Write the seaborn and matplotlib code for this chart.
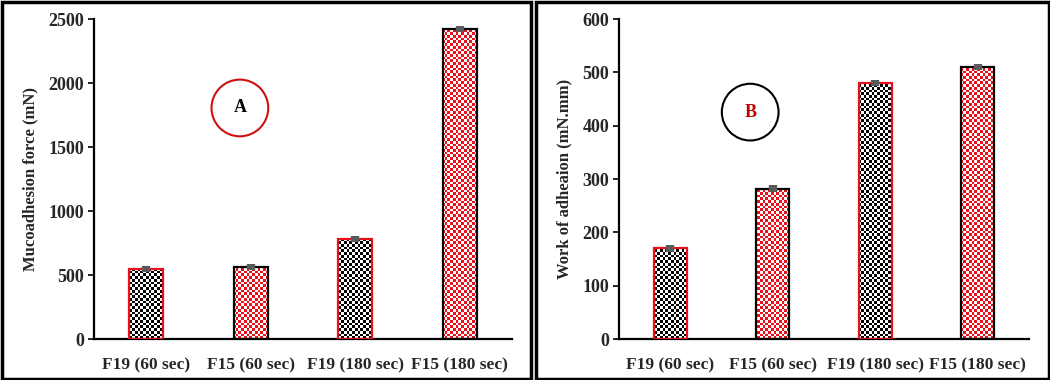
import numpy as np
import pandas as pd
import matplotlib
matplotlib.use("Agg")
import matplotlib.pyplot as plt
import seaborn as sns
from matplotlib.patches import Rectangle

categories = ["F19 (60 sec)", "F15 (60 sec)", "F19 (180 sec)", "F15 (180 sec)"]
force_values = [550, 565, 780, 2420]
force_err = [24, 24, 24, 24]
work_values = [170, 282, 480, 510]
work_err = [6, 6, 6, 6]
formulation = ["F19", "F15", "F19", "F15"]

sns.set_theme(style="white")
plt.rcParams["font.family"] = ["Liberation Serif", "DejaVu Serif"]
plt.rcParams["font.weight"] = "bold"

fig = plt.figure(figsize=(10.5, 3.8), dpi=100)
W, H = 1050, 380

def fx(px):
    return px / W

def fy(py):
    return 1 - py / H

ax1 = fig.add_axes([fx(94), fy(339), fx(512 - 94), (339 - 19) / H])
ax2 = fig.add_axes([fx(619), fy(339), fx(1029 - 619), (339 - 19) / H])

fill_colors = {"F19": "black", "F15": "#e8101a"}
edge_colors = {"F19": "#e8101a", "F15": "black"}


def checker_rgb(color, ny, nx):
    rgb = np.array(matplotlib.colors.to_rgb(color))
    yy, xx = np.mgrid[0:ny, 0:nx]
    mask = ((yy + xx) % 2 == 0)[..., None]
    return np.where(mask, rgb, np.ones(3))


def draw_panel(ax, values, errs, ylim, yticks, ylabel, width):
    df = pd.DataFrame({"cat": categories, "val": values, "form": formulation})
    sns.barplot(data=df, x="cat", y="val", hue="cat", ax=ax, width=width,
                palette=["white"] * 4, legend=False, errorbar=None, dodge=False)
    ax.set_ylim(*ylim)
    ax.set_xlim(-0.5, 3.5)
    bbox = ax.get_window_extent()
    nx = int(bbox.width / 2.7)
    ny = int(bbox.height / 2.7)
    for patch, form in zip(ax.patches, formulation):
        patch.set_facecolor("none")
        patch.set_edgecolor(edge_colors[form])
        patch.set_linewidth(1.6)
        patch.set_zorder(3)
        img = ax.imshow(checker_rgb(fill_colors[form], ny, nx), extent=[0, 1, 0, 1],
                        transform=ax.transAxes, interpolation="nearest",
                        aspect="auto", zorder=2)
        img.set_clip_path(patch)
    ax.set_aspect("auto")
    ax.set_xlim(-0.5, 3.5)
    ax.set_ylim(*ylim)
    ax.errorbar(np.arange(len(values)), values, yerr=errs, fmt="none",
                ecolor="#5a5a5a", elinewidth=6, capsize=0, zorder=4)
    ax.set_yticks(yticks)
    ax.set_yticklabels([str(t) for t in yticks], fontsize=13, fontweight="bold")
    ax.set_xticks(range(4))
    ax.set_xticklabels(categories, fontsize=12.5, fontweight="bold")
    ax.set_xlabel("")
    ax.set_ylabel(ylabel, fontsize=12, fontweight="bold", labelpad=7)
    for s in ["top", "right"]:
        ax.spines[s].set_visible(False)
    for s in ["left", "bottom"]:
        ax.spines[s].set_color("black")
        ax.spines[s].set_linewidth(1.6)
    ax.tick_params(axis="y", which="both", left=True, length=4, width=1.2,
                   color="black", direction="out", pad=3)
    ax.tick_params(axis="x", bottom=False, pad=7)
    ax.set_facecolor("white")


draw_panel(ax1, force_values, force_err, (0, 2500), [0, 500, 1000, 1500, 2000, 2500],
           "Mucoadhesion force (mN)", 0.33)
draw_panel(ax2, work_values, work_err, (0, 600), [0, 100, 200, 300, 400, 500, 600],
           "Work of adheaion (mN.mm)", 0.32)

ax1.text(0.349, 0.722, "A", transform=ax1.transAxes, ha="center", va="center",
         fontsize=13, fontweight="bold", color="black",
         bbox=dict(boxstyle="circle,pad=1.1", fc="none", ec="#d01010", lw=1.5))
ax2.text(0.32, 0.709, "B", transform=ax2.transAxes, ha="center", va="center",
         fontsize=13, fontweight="bold", color="#c00000",
         bbox=dict(boxstyle="circle,pad=1.1", fc="none", ec="black", lw=1.5))

# panel frames
fig.patches.append(Rectangle((fx(1.5), fy(378.5)), fx(530.5 - 1.5), (378.5 - 1.5) / H,
                             transform=fig.transFigure, fill=False, ec="black", lw=2.5))
fig.patches.append(Rectangle((fx(536), fy(378.5)), fx(1048.5 - 536), (378.5 - 1.5) / H,
                             transform=fig.transFigure, fill=False, ec="black", lw=2.5))

fig.savefig("out.png", dpi=100)
